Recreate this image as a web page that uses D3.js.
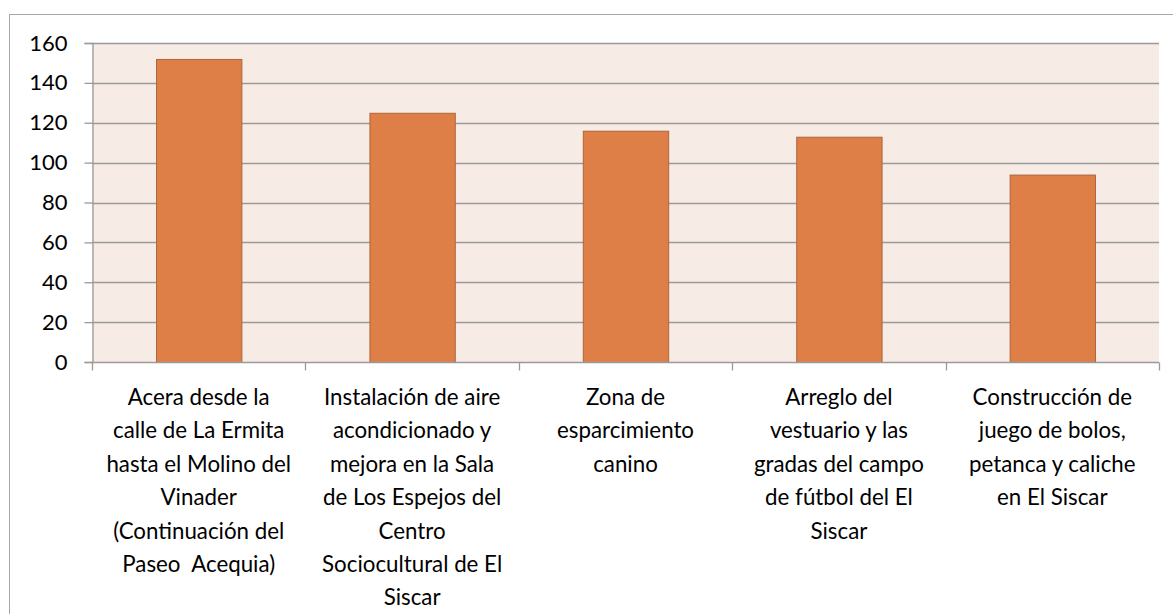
<!DOCTYPE html>
<html>
<head>
<meta charset="utf-8">
<script src="https://cdn.jsdelivr.net/npm/d3@7"></script>
<style>
  body { margin: 0; background: #fff; }
  svg text { font-family: Lato, "Open Sans", sans-serif; fill: #000; white-space: pre; }
</style>
</head>
<body>
<div id="chart"></div>
<script>
// categories (wrapped as in the original chart)
const categories = [
  ["Acera desde la", "calle de La Ermita", "hasta el Molino del", "Vinader", "(Continuación del", "Paseo  Acequia)"],
  ["Instalación de aire", "acondicionado y", "mejora en la Sala", "de Los Espejos del", "Centro", "Sociocultural de El", "Siscar"],
  ["Zona de", "esparcimiento", "canino"],
  ["Arreglo del", "vestuario y las", "gradas del campo", "de fútbol del El", "Siscar"],
  ["Construcción de", "juego de bolos,", "petanca y caliche", "en El Siscar"]
];
const values = [152, 125, 116, 113, 94];
const yTicks = [0, 20, 40, 60, 80, 100, 120, 140, 160];

const W = 1173, H = 614;
const plot = { left: 92, top: 43, right: 1159, bottom: 362 };

const svg = d3.select("#chart").append("svg")
  .attr("width", W)
  .attr("height", H);

// chart frame
svg.append("rect")
  .attr("x", 9.5).attr("y", 14.5)
  .attr("width", 1170).attr("height", 620)
  .attr("fill", "#fff")
  .attr("stroke", "#a6a6a6");

const x = d3.scaleBand()
  .domain(d3.range(categories.length))
  .range([plot.left, plot.right])
  .paddingInner(0.6)
  .paddingOuter(0.3);

const y = d3.scaleLinear()
  .domain([0, 160])
  .range([plot.bottom, plot.top]);

// plot background
svg.append("rect")
  .attr("x", plot.left).attr("y", plot.top)
  .attr("width", plot.right - plot.left)
  .attr("height", plot.bottom - plot.top)
  .attr("fill", "#f7ebe6");

// gridlines
svg.append("g")
  .selectAll("line")
  .data(yTicks.filter(d => d > 0))
  .join("line")
  .attr("x1", plot.left).attr("x2", plot.right)
  .attr("y1", d => Math.round(y(d)) + 0.5)
  .attr("y2", d => Math.round(y(d)) + 0.5)
  .attr("stroke", "#9a9a9a")
  .attr("stroke-width", 1.5);

// y axis
const yAxis = svg.append("g")
  .attr("transform", `translate(${plot.left + 0.5},0)`)
  .call(d3.axisLeft(y).tickValues(yTicks).tickSize(8).tickPadding(17));
yAxis.select(".domain").attr("stroke", "#9a9a9a").attr("stroke-width", 1.3);
yAxis.selectAll(".tick line").attr("stroke", "#9a9a9a").attr("stroke-width", 1.3);
yAxis.selectAll(".tick text")
  .attr("font-size", 22)
  .attr("fill", "#000")
  .style("font-family", "Lato, sans-serif");

// bars
svg.append("g")
  .selectAll("rect")
  .data(values)
  .join("rect")
  .attr("x", (d, i) => x(i) + 0.5)
  .attr("y", d => y(d) + 0.5)
  .attr("width", x.bandwidth())
  .attr("height", d => y(0) - y(d))
  .attr("fill", "#dd7f47")
  .attr("stroke", "#b0643a")
  .attr("stroke-width", 1);

// x axis line + category boundary ticks
const step = x.step();
const xBase = Math.round(y(0)) + 0.5;
svg.append("line")
  .attr("x1", plot.left).attr("x2", plot.right)
  .attr("y1", xBase).attr("y2", xBase)
  .attr("stroke", "#9a9a9a")
  .attr("stroke-width", 1.5);
svg.append("g")
  .selectAll("line")
  .data(d3.range(categories.length + 1))
  .join("line")
  .attr("x1", i => Math.round(plot.left + i * step) + 0.5)
  .attr("x2", i => Math.round(plot.left + i * step) + 0.5)
  .attr("y1", xBase).attr("y2", xBase + 8)
  .attr("stroke", "#9a9a9a")
  .attr("stroke-width", 1.3);

// category labels
const labels = svg.append("g")
  .selectAll("text")
  .data(categories)
  .join("text")
  .attr("text-anchor", "middle")
  .attr("font-size", 22.3)
  .attr("transform", (d, i) => `translate(${x(i) + x.bandwidth() / 2},405)`);
labels.selectAll("tspan")
  .data(d => d)
  .join("tspan")
  .attr("x", 0)
  .attr("y", (d, j) => j * 33.4)
  .text(d => d);
</script>
</body>
</html>
